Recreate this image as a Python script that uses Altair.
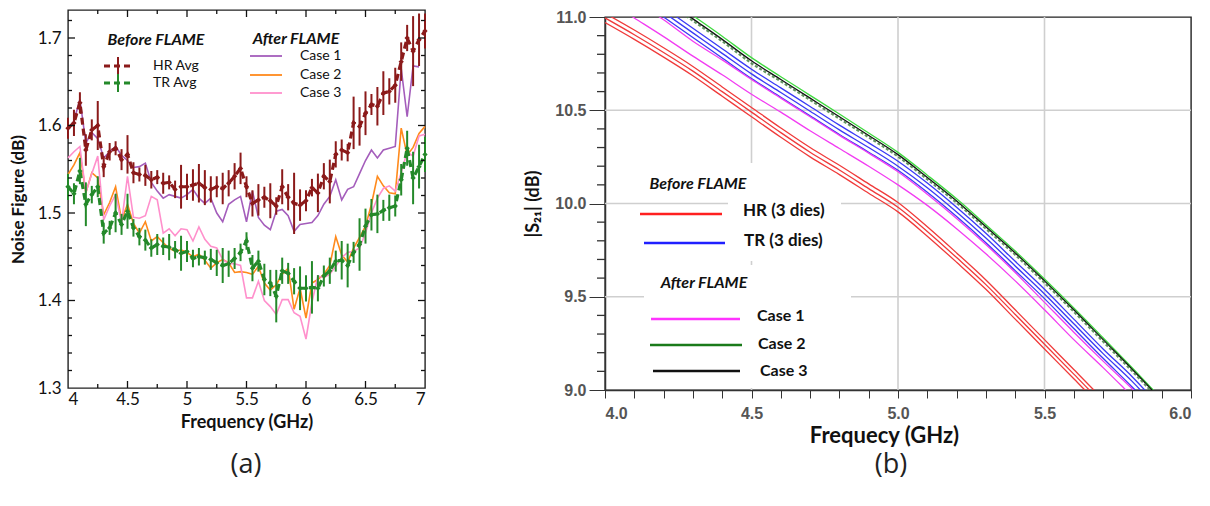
import altair as alt
import pandas as pd

# ---------------- (a) Noise figure data ----------------
freq_a = [4.00, 4.05, 4.10, 4.15, 4.20, 4.25, 4.30, 4.35, 4.40, 4.45, 4.50, 4.55, 4.60, 4.65, 4.70,
          4.75, 4.80, 4.85, 4.90, 4.95, 5.00, 5.05, 5.10, 5.15, 5.20, 5.25, 5.30, 5.35, 5.40, 5.45,
          5.50, 5.55, 5.60, 5.65, 5.70, 5.75, 5.80, 5.85, 5.90, 5.95, 6.00, 6.05, 6.10, 6.15, 6.20,
          6.25, 6.30, 6.35, 6.40, 6.45, 6.50, 6.55, 6.60, 6.65, 6.70, 6.75, 6.80, 6.85, 6.90, 6.95, 7.00]

hr_avg = [1.597, 1.603, 1.626, 1.572, 1.595, 1.600, 1.553, 1.570, 1.574, 1.561, 1.567, 1.546, 1.544, 1.543, 1.538,
          1.541, 1.534, 1.535, 1.527, 1.530, 1.530, 1.532, 1.534, 1.529, 1.527, 1.530, 1.528, 1.534, 1.542, 1.551,
          1.530, 1.511, 1.515, 1.518, 1.514, 1.508, 1.530, 1.518, 1.511, 1.509, 1.514, 1.529, 1.523, 1.542, 1.536,
          1.567, 1.572, 1.569, 1.603, 1.599, 1.614, 1.624, 1.622, 1.637, 1.639, 1.646, 1.673, 1.700, 1.685, 1.698, 1.708]
hr_err = [.012, .015, .012, .018, .012, .028, .012, .010, .008, .012, .022, .012, .008, .012, .010,
          .008, .012, .008, .010, .025, .015, .018, .022, .020, .015, .012, .018, .015, .015, .018,
          .012, .015, .018, .012, .020, .010, .020, .015, .035, .018, .012, .010, .022, .015, .025,
          .015, .012, .010, .030, .022, .025, .012, .022, .025, .015, .020, .022, .015, .040, .030, .020]
tr_avg = [1.530, 1.522, 1.548, 1.510, 1.521, 1.530, 1.477, 1.483, 1.500, 1.487, 1.502, 1.483, 1.473, 1.469, 1.460,
          1.464, 1.462, 1.461, 1.458, 1.454, 1.456, 1.448, 1.450, 1.449, 1.447, 1.443, 1.440, 1.442, 1.448, 1.455,
          1.468, 1.437, 1.445, 1.424, 1.420, 1.405, 1.434, 1.431, 1.422, 1.414, 1.414, 1.415, 1.414, 1.428, 1.434,
          1.445, 1.446, 1.440, 1.455, 1.464, 1.485, 1.498, 1.499, 1.503, 1.506, 1.508, 1.538, 1.574, 1.540, 1.553, 1.567]
tr_err = [.015, .012, .015, .025, .010, .012, .012, .008, .022, .012, .020, .010, .010, .012, .010,
          .012, .010, .015, .010, .020, .012, .010, .010, .008, .012, .015, .020, .015, .012, .010,
          .010, .015, .012, .018, .015, .030, .015, .012, .015, .025, .015, .030, .015, .012, .015,
          .012, .022, .025, .012, .030, .020, .018, .022, .012, .015, .012, .018, .020, .030, .025, .020]
case1_a = [1.595, 1.605, 1.630, 1.580, 1.592, 1.585, 1.563, 1.570, 1.576, 1.566, 1.560, 1.552, 1.553, 1.557, 1.535,
           1.525, 1.517, 1.521, 1.519, 1.517, 1.521, 1.527, 1.517, 1.511, 1.517, 1.500, 1.490, 1.510, 1.515, 1.519,
           1.490, 1.525, 1.495, 1.486, 1.481, 1.502, 1.504, 1.497, 1.479, 1.487, 1.488, 1.489, 1.497, 1.510, 1.519,
           1.538, 1.515, 1.527, 1.530, 1.545, 1.560, 1.572, 1.563, 1.572, 1.574, 1.576, 1.665, 1.610, 1.668, 1.667]
case2_a = [1.544, 1.555, 1.569, 1.523, 1.546, 1.540, 1.498, 1.512, 1.530, 1.492, 1.510, 1.488, 1.477, 1.490, 1.468,
           1.473, 1.466, 1.460, 1.456, 1.458, 1.455, 1.450, 1.453, 1.446, 1.437, 1.443, 1.447, 1.443, 1.432, 1.433,
           1.432, 1.430, 1.439, 1.420, 1.412, 1.418, 1.430, 1.437, 1.390, 1.414, 1.380, 1.420, 1.424, 1.430, 1.440,
           1.473, 1.452, 1.444, 1.460, 1.472, 1.485, 1.510, 1.542, 1.531, 1.523, 1.522, 1.597, 1.566, 1.575, 1.591, 1.599]
case3_a = [1.563, 1.570, 1.576, 1.523, 1.545, 1.565, 1.492, 1.508, 1.521, 1.489, 1.542, 1.495, 1.494, 1.497, 1.519,
           1.515, 1.477, 1.482, 1.474, 1.482, 1.481, 1.468, 1.484, 1.470, 1.462, 1.460, 1.447, 1.442, 1.442, 1.440,
           1.403, 1.403, 1.422, 1.400, 1.393, 1.384, 1.401, 1.401, 1.386, 1.382, 1.356, 1.398, 1.428, 1.426, 1.430,
           1.439, 1.449, 1.455, 1.456, 1.460, 1.477, 1.500, 1.517, 1.528, 1.531, 1.525, 1.546, 1.570, 1.565, 1.588, 1.590]

a_x_labels = [4, 4.5, 5, 5.5, 6, 6.5, 7]
a_y_labels = [1.3, 1.4, 1.5, 1.6, 1.7]
a_x_major = [4.5, 5.0, 5.5, 6.0, 6.5]
a_x_minor = [4.25, 4.75, 5.25, 5.75, 6.25, 6.75]
a_y_major = [1.4, 1.5, 1.6, 1.7]
a_y_minor = [1.32, 1.34, 1.36, 1.38, 1.42, 1.44, 1.46, 1.48, 1.52, 1.54, 1.56, 1.58,
             1.62, 1.64, 1.66, 1.68, 1.72]

# ---------------- (b) |S21| data ----------------
freq_b = [4.0, 4.1, 4.2, 4.3, 4.4, 4.5, 4.6, 4.7, 4.8, 4.9, 5.0, 5.1, 5.2, 5.3, 5.4, 5.5, 5.6, 5.7, 5.8, 5.9]
hr_die1 = [11.02, 10.93, 10.835, 10.735, 10.625, 10.515, 10.405, 10.30, 10.205, 10.105,
           10.005, 9.875, 9.735, 9.59, 9.43, 9.27, 9.11, 8.95, 8.80, 8.65]
hr_die2 = [10.995, 10.905, 10.81, 10.71, 10.60, 10.49, 10.38, 10.275, 10.18, 10.08,
           9.98, 9.85, 9.71, 9.565, 9.405, 9.245, 9.085, 8.925, 8.775, 8.625]
hr_die3 = [10.97, 10.88, 10.785, 10.685, 10.575, 10.465, 10.355, 10.25, 10.155, 10.055,
           9.955, 9.825, 9.685, 9.54, 9.38, 9.22, 9.06, 8.90, 8.75, 8.60]
tr_die1 = [11.27, 11.16, 11.05, 10.94, 10.83, 10.72, 10.62, 10.52, 10.42, 10.325,
           10.227, 10.11, 9.98, 9.84, 9.69, 9.54, 9.38, 9.22, 9.07, 8.90]
tr_die2 = [11.245, 11.135, 11.025, 10.915, 10.805, 10.695, 10.595, 10.495, 10.395, 10.30,
           10.20, 10.085, 9.955, 9.815, 9.665, 9.515, 9.355, 9.195, 9.045, 8.875]
tr_die3 = [11.22, 11.11, 11.0, 10.89, 10.78, 10.67, 10.57, 10.47, 10.37, 10.275,
           10.178, 10.06, 9.93, 9.79, 9.64, 9.49, 9.33, 9.17, 9.015, 8.85]
case1_b1 = [11.095, 10.995, 10.895, 10.79, 10.69, 10.586, 10.49, 10.39, 10.295, 10.20,
            10.10, 9.99, 9.865, 9.73, 9.585, 9.43, 9.27, 9.12, 8.965, 8.81]
case1_b2 = [11.2, 11.09, 10.985, 10.87, 10.77, 10.665, 10.565, 10.465, 10.365, 10.27,
            10.17, 10.05, 9.92, 9.78, 9.63, 9.47, 9.31, 9.155, 9.005, 8.85]
case2_b = [11.35, 11.23, 11.12, 11.008, 10.897, 10.782, 10.68, 10.58, 10.48, 10.378,
           10.274, 10.152, 10.025, 9.886, 9.745, 9.595, 9.44, 9.28, 9.118, 8.952]
case2_b_alt = [11.32, 11.20, 11.09, 10.98, 10.87, 10.752, 10.655, 10.555, 10.455, 10.355,
               10.252, 10.13, 10.004, 9.865, 9.725, 9.575, 9.42, 9.26, 9.10, 8.935]
case3_b = [11.33, 11.21, 11.10, 10.99, 10.88, 10.765, 10.665, 10.565, 10.465, 10.365,
           10.262, 10.14, 10.014, 9.875, 9.735, 9.585, 9.43, 9.27, 9.11, 8.945]

b_x_ticks = [4.0, 4.1, 4.2, 4.3, 4.4, 4.5, 4.6, 4.7, 4.8, 4.9, 5.0, 5.1, 5.2, 5.3, 5.4, 5.5,
             5.6, 5.7, 5.8, 5.9, 6.0]
b_y_labels = [9.0, 9.5, 10.0, 10.5, 11.0]
b_y_minor = [9.1, 9.2, 9.3, 9.4, 9.6, 9.7, 9.8, 9.9, 10.1, 10.2, 10.3, 10.4,
             10.6, 10.7, 10.8, 10.9]
b_x_grid = [4.5, 5.0, 5.5]
b_y_grid = [9.5, 10.0, 10.5]

FONT = "Lato"


def series_df(xs, ys, name, err=None):
    rows = []
    for i, (x, y) in enumerate(zip(xs, ys)):
        r = {"f": x, "v": y, "s": name}
        if err is not None:
            r["e"] = err[i]
        rows.append(r)
    return pd.DataFrame(rows)


def text_at(s, x, y, size=14, weight="normal", style="normal", align="left", color="#111", font=FONT):
    return alt.Chart(pd.DataFrame({"t": [s]})).mark_text(
        font=font, fontSize=size, fontWeight=weight, fontStyle=style, align=align,
        baseline="middle", color=color
    ).encode(text="t:N", x=alt.value(x), y=alt.value(y))


def seg_at(x1, x2, y, color, width=2.0, dash=None):
    kw = dict(color=color, strokeWidth=width)
    if dash:
        kw["strokeDash"] = dash
    return alt.Chart(pd.DataFrame({"t": [0]})).mark_rule(**kw).encode(
        x=alt.value(x1), x2=alt.value(x2), y=alt.value(y))


def vseg_at(x, y1, y2, color, width=2.0):
    return alt.Chart(pd.DataFrame({"t": [0]})).mark_rule(color=color, strokeWidth=width).encode(
        x=alt.value(x), y=alt.value(y1), y2=alt.value(y2))


# ================= Panel (a) =================
W1, H1 = 357, 378
HR_C, TR_C = "#8b1a1a", "#24892a"
C1_C, C2_C, C3_C = "#a45dbb", "#ff8a1c", "#ff90cc"

ax_a = alt.Axis(values=a_x_labels, format="~g", tickSize=0, domain=False, grid=False,
                labelFont=FONT, labelFontSize=17, labelColor="#111", labelPadding=3,
                title="Frequency (GHz)", titleFont=FONT, titleFontSize=18, titleFontWeight="bold",
                titleColor="#111", titlePadding=6)
ay_a = alt.Axis(values=a_y_labels, format=".1f", tickSize=0, domain=False, grid=False,
                labelFont=FONT, labelFontSize=17, labelColor="#111", labelPadding=7,
                title="Noise Figure (dB)", titleFont=FONT, titleFontSize=17, titleFontWeight="bold",
                titleColor="#111", titlePadding=10)
xs_a = alt.Scale(domain=[4, 7], nice=False, zero=False)
ys_a = alt.Scale(domain=[1.3, 1.732], nice=False, zero=False)
X_A = alt.X("f:Q", scale=xs_a, axis=ax_a)
Y_A = alt.Y("v:Q", scale=ys_a, axis=ay_a)

names_a = ["Case 1", "Case 2", "Case 3", "HR Avg", "TR Avg"]
cols_a = [C1_C, C2_C, C3_C, HR_C, TR_C]
color_a = alt.Color("s:N", scale=alt.Scale(domain=names_a, range=cols_a), legend=None)

cases_a = pd.concat([series_df(freq_a, case1_a, "Case 1"),
                     series_df(freq_a, case2_a, "Case 2"),
                     series_df(freq_a, case3_a, "Case 3")])
avg_a = pd.concat([series_df(freq_a, hr_avg, "HR Avg", hr_err),
                   series_df(freq_a, tr_avg, "TR Avg", tr_err)])

case_lines = alt.Chart(cases_a).mark_line(strokeWidth=1.6).encode(x=X_A, y=Y_A, color=color_a, detail="s:N")
avg_err = alt.Chart(avg_a).transform_calculate(
    lo="datum.v - datum.e", hi="datum.v + datum.e"
).mark_rule(strokeWidth=2).encode(
    x=X_A, y=alt.Y("lo:Q", scale=ys_a, axis=ay_a), y2="hi:Q", color=color_a)
avg_lines = alt.Chart(avg_a).mark_line(strokeWidth=3.2, strokeDash=[7, 4]).encode(
    x=X_A, y=Y_A, color=color_a, detail="s:N")
avg_pts = alt.Chart(avg_a).mark_point(filled=True, shape="diamond", size=28, opacity=1).encode(
    x=X_A, y=Y_A, color=color_a)

tick_col = "#111"
xt_major = pd.DataFrame({"f": a_x_major})
xt_minor = pd.DataFrame({"f": a_x_minor})
yt_major = pd.DataFrame({"v": a_y_major})
yt_minor = pd.DataFrame({"v": a_y_minor})
ticks_a = []
for df, ln in [(xt_major, 7), (xt_minor, 4)]:
    ticks_a.append(alt.Chart(df).mark_rule(color=tick_col, strokeWidth=1.3).encode(
        x=X_A, y=alt.value(H1), y2=alt.value(H1 - ln)))
    ticks_a.append(alt.Chart(df).mark_rule(color=tick_col, strokeWidth=1.3).encode(
        x=X_A, y=alt.value(0), y2=alt.value(ln)))
for df, ln in [(yt_major, 7), (yt_minor, 4)]:
    ticks_a.append(alt.Chart(df).mark_rule(color=tick_col, strokeWidth=1.3).encode(
        y=Y_A, x=alt.value(0), x2=alt.value(ln)))
    ticks_a.append(alt.Chart(df).mark_rule(color=tick_col, strokeWidth=1.3).encode(
        y=Y_A, x=alt.value(W1 - ln), x2=alt.value(W1)))

legend_a = [
    text_at("Before FLAME", 88, 30, size=16, weight="bold", style="italic", align="center"),
    seg_at(36, 65, 56, HR_C, 3.2, [6, 4]), vseg_at(50, 47, 65, HR_C, 2),
    text_at("HR Avg", 85, 56, size=14),
    seg_at(36, 65, 73, TR_C, 3.2, [6, 4]), vseg_at(50, 64, 82, TR_C, 2),
    text_at("TR Avg", 85, 73, size=14),
    text_at("After FLAME", 228, 29, size=16, weight="bold", style="italic", align="center"),
    seg_at(182, 214, 46, C1_C, 1.8), text_at("Case 1", 232, 46, size=14),
    seg_at(182, 214, 65, C2_C, 1.8), text_at("Case 2", 232, 65, size=14),
    seg_at(182, 214, 83, C3_C, 1.8), text_at("Case 3", 232, 83, size=14),
    text_at("(a)", 178, 455, size=27, align="center", font="Open Sans", color="#222"),
]

panel_a = alt.layer(case_lines, avg_lines, avg_err, avg_pts, *ticks_a, *legend_a).properties(
    width=W1, height=H1)

# ================= Panel (b) =================
W2, H2 = 586, 373
RED, BLUE, MAG = "#f03a3a", "#3a3af5", "#f23cf2"
LIME, DKGREEN, BLACK = "#3fd93f", "#3d7a3d", "#111111"

ax_b = alt.Axis(values=b_x_ticks,
                labelExpr="round(datum.value*10) % 5 == 0 ? format(datum.value, '.1f') : ''",
                tickSize=8, tickColor="#333", domainColor="#333", domainWidth=1.5, grid=False,
                labelFont="Liberation Sans", labelFontSize=16, labelColor="#555", labelPadding=7,
                labelFontWeight="bold",
                title="Frequecy (GHz)", titleFont=FONT, titleFontSize=22, titleFontWeight="bold",
                titleColor="#111", titlePadding=4, titleX=279)
ay_b = alt.Axis(values=b_y_labels, format=".1f",
                tickSize=16, tickColor="#333", domainColor="#333", domainWidth=1.5, grid=False,
                labelFont="Liberation Sans", labelFontSize=16, labelColor="#555", labelPadding=3,
                labelFontWeight="bold",
                title="|S\u2082\u2081| (dB)", titleFont=FONT, titleFontSize=18, titleFontWeight="bold",
                titleColor="#111", titlePadding=12)
xs_b = alt.Scale(domain=[4, 6], nice=False, zero=False)
ys_b = alt.Scale(domain=[9, 11], nice=False, zero=False)
X_B = alt.X("f:Q", scale=xs_b, axis=ax_b)
Y_B = alt.Y("v:Q", scale=ys_b, axis=ay_b)

grid_x = alt.Chart(pd.DataFrame({"f": b_x_grid})).mark_rule(color="#cfcfcf", strokeWidth=1.6).encode(
    x=X_B, y=alt.value(0), y2=alt.value(H2))
grid_y = alt.Chart(pd.DataFrame({"v": b_y_grid})).mark_rule(color="#cfcfcf", strokeWidth=1.6).encode(
    y=Y_B, x=alt.value(0), x2=alt.value(W2))
minor_y = alt.Chart(pd.DataFrame({"v": b_y_minor})).mark_rule(color="#333", strokeWidth=1.3).encode(
    y=Y_B, x=alt.value(-8), x2=alt.value(0))


def box(x1, x2, y1, y2):
    return alt.Chart(pd.DataFrame({"t": [0]})).mark_rect(color="white").encode(
        x=alt.value(x1), x2=alt.value(x2), y=alt.value(y1), y2=alt.value(y2))


boxes = [box(123, 236, 146, 244), box(39, 246, 248, 371)]

names_b = ["HR 1", "HR 2", "HR 3", "TR 1", "TR 2", "TR 3", "Case 1a", "Case 1b", "Case 2", "Case 3"]
cols_b = [RED, RED, RED, BLUE, BLUE, BLUE, MAG, MAG, LIME, BLACK]
lines_b = pd.concat([
    series_df(freq_b, hr_die1, "HR 1"), series_df(freq_b, hr_die2, "HR 2"), series_df(freq_b, hr_die3, "HR 3"),
    series_df(freq_b, tr_die1, "TR 1"), series_df(freq_b, tr_die2, "TR 2"), series_df(freq_b, tr_die3, "TR 3"),
    series_df(freq_b, case1_b1, "Case 1a"), series_df(freq_b, case1_b2, "Case 1b"),
    series_df(freq_b, case2_b, "Case 2"), series_df(freq_b, case3_b, "Case 3"),
]).rename(columns={"s": "sb"})
color_b = alt.Color("sb:N", scale=alt.Scale(domain=names_b, range=cols_b), legend=None)
s21_lines = alt.Chart(lines_b).mark_line(strokeWidth=1.3, interpolate="monotone", clip=True).encode(
    x=X_B, y=Y_B, color=color_b, detail="sb:N")
s21_dash = alt.Chart(series_df(freq_b, case2_b_alt, "Case 2 alt")).mark_line(
    strokeWidth=2.2, strokeDash=[3, 2], interpolate="monotone", clip=True, color=DKGREEN, opacity=0.8
).encode(x=X_B, y=Y_B)

legend_b = [
    text_at("Before FLAME", 93, 167, size=16, weight="bold", style="italic", align="center"),
    seg_at(35, 117, 197, "#ff2020", 2.6), text_at("HR (3 dies)", 138, 194, size=17, weight="bold"),
    seg_at(39, 120, 226, "#2020ff", 2.6), text_at("TR (3 dies)", 139, 224, size=17, weight="bold"),
    text_at("After FLAME", 99, 266, size=16, weight="bold", style="italic", align="center"),
    seg_at(46, 135, 302, "#ff33ff", 2.6), text_at("Case 1", 152, 299, size=16, weight="bold"),
    seg_at(45, 137, 328, "#1a7a1a", 2.6), text_at("Case 2", 153, 327, size=16, weight="bold"),
    seg_at(48, 135, 354, "#111111", 2.6), text_at("Case 3", 155, 354, size=16, weight="bold"),
    text_at("(b)", 286, 448, size=27, align="center", font="Open Sans", color="#222"),
]

panel_b = alt.layer(grid_x, grid_y, minor_y, *boxes, s21_lines, s21_dash, *legend_b).properties(
    width=W2, height=H2)

spacer = alt.Chart(pd.DataFrame({"t": [0]})).mark_point(opacity=0, size=1).encode(
    x=alt.value(0), y=alt.value(0)).properties(
    width=W2, height=1, view=alt.ViewBackground(stroke="transparent"))
col_b = alt.vconcat(spacer, panel_b, spacing=6, bounds="flush")

chart = alt.hconcat(panel_a, col_b, spacing=180, bounds="flush").resolve_scale(
    color="independent").properties(
    padding={"left": 0, "top": 0, "right": 0, "bottom": 24}).configure_view(
    stroke="#222", strokeWidth=1.4)

chart.save("out.html", embed_options={"renderer": "svg", "actions": False})
